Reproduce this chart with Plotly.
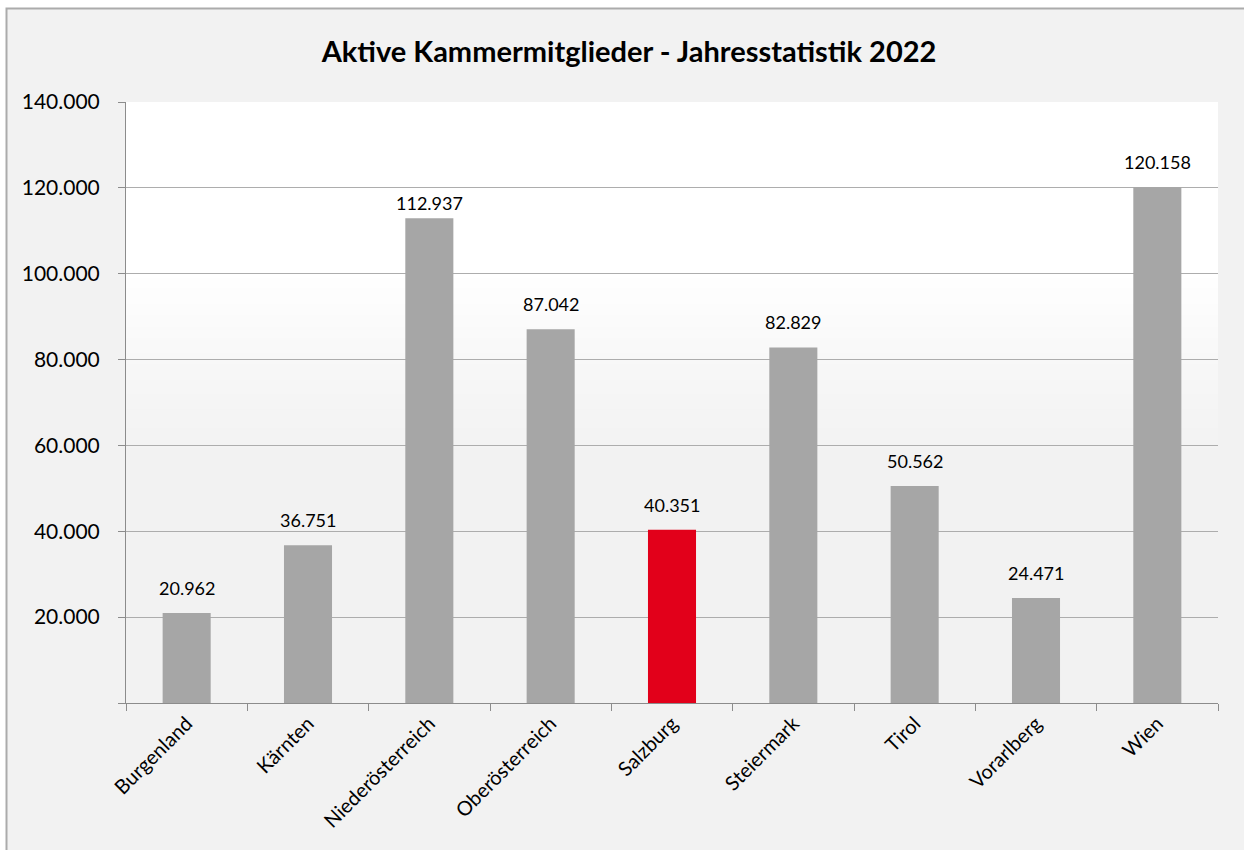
import plotly.graph_objects as go

# ---- data ----
categories = ["Burgenland", "Kärnten", "Niederösterreich", "Oberösterreich",
              "Salzburg", "Steiermark", "Tirol", "Vorarlberg", "Wien"]
members = [20962, 36751, 112937, 87042, 40351, 82829, 50562, 24471, 120158]
highlight = "Salzburg"
y_tick_values = [0, 20000, 40000, 60000, 80000, 100000, 120000, 140000]
y_tick_labels = ["", "20.000", "40.000", "60.000", "80.000", "100.000", "120.000", "140.000"]
title_text = "Aktive Kammermitglieder - Jahresstatistik 2022"

GREY = "#A6A6A6"
RED = "#E2001A"
FONT = "Lato"

W, H = 1244, 850
ML, MR, MT, MB = 126, 26, 102, 147
PW, PH = W - ML - MR, H - MT - MB

# label offset above bar (px); one label sits closer to its bar in the original
label_shift = {c: 12 for c in categories}
label_shift["Niederösterreich"] = 2


def fmt(v):
    return f"{v:,}".replace(",", ".")


colors = [RED if c == highlight else GREY for c in categories]

fig = go.Figure()
fig.add_trace(go.Bar(
    x=categories, y=members,
    marker=dict(color=colors, line=dict(width=0)),
    hoverinfo="skip",
))

# data labels
for c, v in zip(categories, members):
    fig.add_annotation(
        x=c, y=v, text=fmt(v), showarrow=False,
        yanchor="bottom", yshift=label_shift[c],
        font=dict(family=FONT, size=18, color="#000000"),
    )

shapes = []
# outer chart frame
shapes.append(dict(
    type="rect", xref="paper", yref="paper",
    x0=(6.5 - ML) / PW, x1=1.5, y0=-0.6, y1=(H - MB - 8.5) / PH,
    fillcolor="#F2F2F2", line=dict(color="#ABABAB", width=2), layer="below",
))
# plot area gradient background (white top, fading to light grey)
top_white = 100000 / 140000
bottom_grey = 0.40
shapes.append(dict(type="rect", xref="x domain", yref="y domain",
                   x0=0, x1=1, y0=top_white, y1=1,
                   fillcolor="#FFFFFF", line=dict(width=0), layer="below"))
n = 50
for i in range(n):
    f0 = bottom_grey + (top_white - bottom_grey) * i / n
    f1 = bottom_grey + (top_white - bottom_grey) * (i + 1) / n
    t = (i + 0.5) / n
    g = round(242 + 13 * (t ** 1.3))
    shapes.append(dict(type="rect", xref="x domain", yref="y domain",
                       x0=0, x1=1, y0=f0, y1=f1 + 0.001,
                       fillcolor=f"rgb({g},{g},{g})", line=dict(width=0), layer="below"))

fig.update_layout(
    width=W, height=H,
    margin=dict(l=ML, r=MR, t=MT, b=MB, pad=0),
    paper_bgcolor="#FFFFFF",
    plot_bgcolor="rgba(0,0,0,0)",
    shapes=shapes,
    bargap=0.604,
    showlegend=False,
    title=dict(text=title_text, x=629 / W, xanchor="center",
               y=1 - 52 / H, yanchor="middle", yref="container",
               font=dict(family=FONT, size=29, color="#000000", weight="bold")),
    font=dict(family=FONT, color="#000000"),
)

fig.update_xaxes(
    type="category",
    showline=True, linecolor="#8C8C8C", linewidth=1,
    ticks="outside", tickson="boundaries", ticklen=7, tickcolor="#8C8C8C",
    tickangle=-45, tickfont=dict(family=FONT, size=20, color="#000000"),
    showgrid=False, zeroline=False,
)
fig.update_yaxes(
    range=[0, 140000],
    tickvals=y_tick_values, ticktext=y_tick_labels,
    showline=True, linecolor="#8C8C8C", linewidth=1,
    ticks="outside", ticklen=7, tickcolor="#8C8C8C",
    ticklabelstandoff=14,
    tickfont=dict(family=FONT, size=21, color="#000000"),
    showgrid=True, gridcolor="#ADADAD", gridwidth=1,
    zeroline=False,
)

fig.write_html("out.html",
               config={"displayModeBar": False},
               post_script="document.body.style.margin='0';document.body.style.overflow='hidden';")
